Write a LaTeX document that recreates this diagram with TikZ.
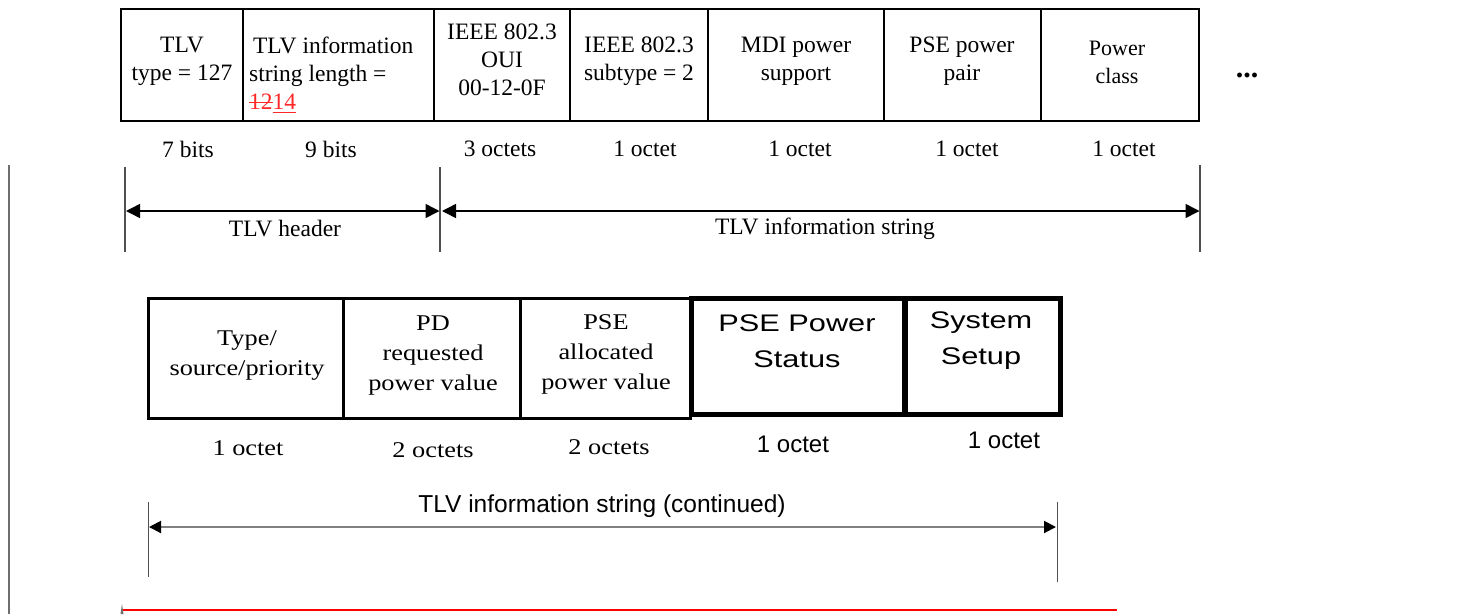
\documentclass[tikz,border=0pt]{standalone}
\usepackage{fontspec}
\setmainfont{Liberation Serif}
\newfontfamily\wideserif[FakeStretch=1.17]{Liberation Serif}
\newfontfamily\widesans[FakeStretch=1.28]{Liberation Sans}
\newfontfamily\plainsans{Liberation Sans}
\usetikzlibrary{arrows.meta}
\newlength\mymarklen
\newcommand\mystrike[1]{\settowidth\mymarklen{#1}\rlap{\rule[0.28em]{\mymarklen}{1.1pt}}#1}
\newcommand\myuline[1]{\settowidth\mymarklen{#1}\rlap{\rule[-0.17em]{\mymarklen}{1.1pt}}#1}
\definecolor{tickgray}{RGB}{80,80,80}
\definecolor{linegray}{RGB}{128,128,128}
\definecolor{edgegray}{RGB}{110,110,110}
\definecolor{redmark}{RGB}{255,40,40}
\definecolor{redline}{RGB}{255,0,0}
\tikzset{
  cellbox/.style={draw, line width=2.2pt, minimum height=112pt, inner sep=0pt},
  thinbox/.style={draw, line width=3pt, minimum height=120pt, inner sep=0pt},
  thickbox/.style={draw, line width=5pt, minimum height=116pt, inner sep=0pt},
  toptext/.style={font=\fontsize{23.5}{28}\selectfont, align=center, inner sep=0pt},
  lbl/.style={font=\fontsize{23.5}{28}\selectfont, inner sep=0pt},
  botserif/.style={font=\wideserif\fontsize{22.5}{30}\selectfont, align=center, inner sep=0pt},
  botsans/.style={font=\widesans\fontsize{24}{36}\selectfont, align=center, inner sep=0pt},
  sanslbl/.style={font=\plainsans\fontsize{24}{28}\selectfont, inner sep=0pt},
  tickline/.style={draw=tickgray, line width=1.2pt},
  dimarrow/.style={line width=1.5pt, {Triangle[length=14pt,width=14pt]}-{Triangle[length=14pt,width=14pt]}},
  grayarrow/.style={draw=linegray, line width=2pt, {Triangle[length=12pt,width=12pt,color=black]}-{Triangle[length=12pt,width=12pt,color=black]}}
}
\begin{document}
\begin{tikzpicture}[x=1pt,y=-1pt]
\useasboundingbox[fill=white] (0,0) rectangle (1458,614);
% top row boxes
\node[cellbox, minimum width=122pt] (c1) at (182,65) {};
\node[cellbox, minimum width=191pt] (c2) at (338.5,65) {};
\node[cellbox, minimum width=136pt] (c3) at (502,65) {};
\node[cellbox, minimum width=138pt] (c4) at (639,65) {};
\node[cellbox, minimum width=176pt] (c5) at (796,65) {};
\node[cellbox, minimum width=157pt] (c6) at (962.5,65) {};
\node[cellbox, minimum width=158pt] (c7) at (1120,65) {};
% top row texts
\node[toptext] (t1) at (182,61) {TLV\\type = 127};
\node[toptext, align=left, anchor=west] (t2) at (249,75) {\,TLV information\\string length =\\{\color{redmark}\mystrike{12}\myuline{14}}};
\node[toptext] (t3) at (502,60) {IEEE 802.3\\OUI\\00-12-0F};
\node[toptext] (t4) at (639,61) {IEEE 802.3\\subtype = 2};
\node[toptext] (t5) at (796,61) {MDI power\\support};
\node[toptext] (t6) at (962,61) {PSE power\\pair};
\node[toptext, font=\fontsize{22}{28}\selectfont] (t7) at (1117,62) {Power\\class};
\node[lbl, anchor=base, font=\fontsize{30}{30}\selectfont] (dots) at (1247,77) {\textbf{...}};
% size labels
\node[lbl] (s1) at (188,149) {7 bits};
\node[lbl] (s2) at (331,149) {9 bits};
\node[lbl] (s3) at (500,149) {3 octets};
\node[lbl] (s4) at (645,149) {1 octet};
\node[lbl] (s5) at (800,149) {1 octet};
\node[lbl] (s6) at (967,149) {1 octet};
\node[lbl] (s7) at (1124,149) {1 octet};
% left edge line
\coordinate (e1) at (9,165);
\coordinate (e2) at (9,614);
\draw[draw=edgegray, line width=1.5pt] (e1) -- (e2);
% header dimension lines
\coordinate (hl1) at (125,167); \coordinate (hl2) at (125,252);
\coordinate (hm1) at (440,167); \coordinate (hm2) at (440,252);
\coordinate (hr1) at (1200,165); \coordinate (hr2) at (1200,252);
\draw[tickline] (hl1) -- (hl2);
\draw[tickline] (hm1) -- (hm2);
\draw[tickline] (hr1) -- (hr2);
\coordinate (a1) at (126,211); \coordinate (a2) at (439.5,211);
\coordinate (a3) at (442,211); \coordinate (a4) at (1199.5,211);
\draw[dimarrow] (a1) -- (a2);
\draw[dimarrow] (a3) -- (a4);
\node[lbl] (hdr) at (285,229) {TLV header};
\node[lbl] (istr) at (825,229) {TLV information string};
% bottom row boxes
\node[thinbox, minimum width=195pt] (b1) at (245.5,358) {};
\node[thinbox, minimum width=177pt] (b2) at (431.5,358) {};
\node[thinbox, minimum width=170pt] (b3) at (605,358) {};
\node[thickbox, minimum width=213pt] (b4) at (798,356) {};
\node[thickbox, minimum width=155pt] (b5) at (982.5,356) {};
\node[botserif] (u1) at (247,356) {Type/\\source/priority};
\node[botserif] (u2) at (433,356) {PD\\requested\\power value};
\node[botserif] (u3) at (606,354) {PSE\\allocated\\power value};
\node[botsans] (u4) at (797,341) {PSE Power\\Status};
\node[botsans] (u5) at (981,341) {System\\Setup};
% bottom size labels
\node[botserif] (v1) at (248,448) {1 octet};
\node[botserif] (v2) at (433,450) {2 octets};
\node[botserif] (v3) at (609,447) {2 octets};
\node[sanslbl] (v4) at (793,444) {1 octet};
\node[sanslbl] (v5) at (1004,440) {1 octet};
% continued dimension line
\coordinate (cl1) at (148,502); \coordinate (cl2) at (148,577);
\coordinate (cr1) at (1057,502); \coordinate (cr2) at (1057,582);
\draw[draw=tickgray, line width=1pt] (cl1) -- (cl2);
\draw[draw=tickgray, line width=1pt] (cr1) -- (cr2);
\coordinate (d1) at (149,527); \coordinate (d2) at (1056,527);
\draw[grayarrow] (d1) -- (d2);
\node[sanslbl, font=\plainsans\fontsize{24.5}{28}\selectfont] (cont) at (602,506) {TLV information string (continued)};
% red line
\coordinate (r1) at (123,610); \coordinate (r2) at (1117,610);
\draw[draw=redline, line width=2.5pt] (r1) -- (r2);
\fill[edgegray] (120.5,614) -- (122,604) -- (123.5,614) -- cycle;
\end{tikzpicture}
\end{document}
